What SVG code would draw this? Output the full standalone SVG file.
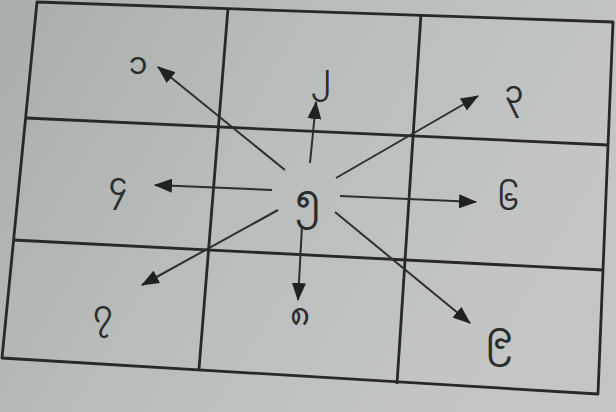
<svg xmlns="http://www.w3.org/2000/svg" width="616" height="412" viewBox="0 0 616 412">
<defs>
<linearGradient id="bg" x1="0" y1="0" x2="1" y2="0.4">
<stop offset="0" stop-color="#a9adab"/>
<stop offset="0.5" stop-color="#b9bdbb"/>
<stop offset="1" stop-color="#c3c6c4"/>
</linearGradient>
<marker id="ah" viewBox="0 0 18 14" refX="17" refY="7" markerWidth="18" markerHeight="14" markerUnits="userSpaceOnUse" orient="auto">
<path d="M0,0 L18,7 L0,14 z" fill="#1f2220"/>
</marker>
<style>
.grid{fill:none;stroke:#262928;stroke-width:2.8;stroke-linejoin:round}
.conn{fill:none;stroke:#2c2f2e;stroke-width:2;marker-end:url(#ah)}
.lbl{font-family:"Noto Sans Myanmar","Padauk","Myanmar Text","Noto Sans","DejaVu Sans",sans-serif;font-size:30px;fill:#2a2d2c;text-anchor:middle;dominant-baseline:central}
.big{font-size:38px}
</style>
</defs>
<rect width="616" height="412" fill="url(#bg)"/>
<g id="grid">
<path class="grid" d="M37,2 L613,22 L598,394 L2,358 Z"/>
<path class="grid" d="M228,8 L199,369"/>
<path class="grid" d="M421,14 L397,384"/>
<path class="grid" d="M26,118 L608,145"/>
<path class="grid" d="M13,240 L603,270"/>
</g>
<g id="connectors">
<path class="conn" d="M285,170 L158,67"/>
<path class="conn" d="M310,163 L316,102"/>
<path class="conn" d="M336,178 L478,96"/>
<path class="conn" d="M272,190 L155,185"/>
<path class="conn" d="M340,196 L476,202"/>
<path class="conn" d="M278,210 L142,285"/>
<path class="conn" d="M302,226 L298,300"/>
<path class="conn" d="M335,212 L470,323"/>
</g>
<g id="n1"><text class="lbl" x="138" y="67">၁</text></g>
<g id="n2"><text class="lbl" x="321" y="80">၂</text></g>
<g id="n3"><text class="lbl" x="514" y="96">၃</text></g>
<g id="n4"><text class="lbl" x="118" y="188">၄</text></g>
<g id="n5"><text class="lbl big" x="308" y="203">၅</text></g>
<g id="n6"><text class="lbl" x="508" y="203">၆</text></g>
<g id="n7"><text class="lbl" x="103" y="316">၇</text></g>
<g id="n8"><text class="lbl" x="300" y="318">၈</text></g>
<g id="n9"><text class="lbl big" x="499" y="340">၉</text></g>
</svg>
